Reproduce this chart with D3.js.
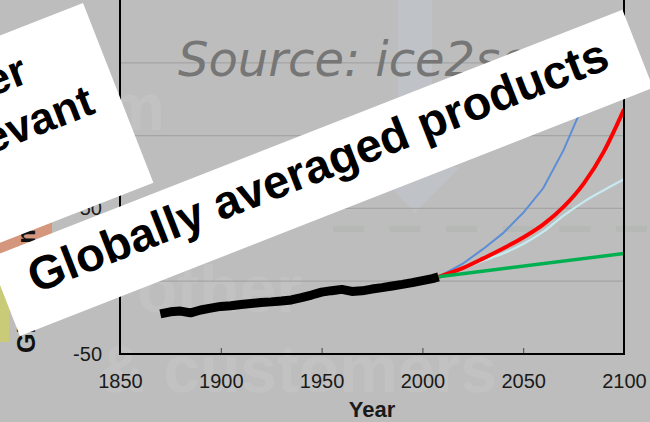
<!DOCTYPE html>
<html>
<head>
<meta charset="utf-8">
<script src="https://cdn.jsdelivr.net/npm/d3@7"></script>
<style>
  body { margin: 0; background: #bdbdbd; }
  svg { display: block; font-family: "Liberation Sans", Arial, sans-serif; }
</style>
</head>
<body>
<div id="chart"></div>
<script>
const obsYears = [1870, 1875, 1880, 1885, 1890, 1895, 1900, 1905, 1910, 1915, 1920, 1925, 1930, 1935, 1940, 1945, 1950, 1955, 1960, 1965, 1970, 1975, 1980, 1985, 1990, 1995, 2000, 2005, 2008];
const obsLevel = [-22.5, -21.0, -20.5, -21.8, -19.8, -18.5, -17.3, -16.8, -16.0, -15.3, -14.6, -14.2, -13.6, -12.9, -11.3, -9.5, -7.5, -6.5, -5.6, -7.0, -6.6, -5.4, -4.4, -3.3, -2.2, -1.0, 0.4, 1.8, 3.0];

// projections
const projYears = [2008, 2020, 2030, 2040, 2050, 2060, 2070, 2080, 2090, 2100];
const projBlue = [3, 12, 22, 33, 47, 64, 90, 122, 148, 172];
const projCyan = [3, 8.5, 14, 19, 25.5, 34, 45, 54.5, 62.5, 70];
const projRed = [3, 9, 15.5, 22.5, 30, 39, 51, 67, 89, 118];
const greenYears = [2008, 2100];
const projGreen = [3, 19];

const xTicks = [1850, 1900, 1950, 2000, 2050, 2100];
const yTicks = [-50, 0, 50, 100, 150];

(function () {
  const width = 650;
  const height = 422;
  const plot = { left: 120, right: 624, top: -10, bottom: 354 };

  const svg = d3.select("#chart")
    .append("svg")
    .attr("width", width)
    .attr("height", height);

  svg.append("rect")
    .attr("width", width)
    .attr("height", height)
    .attr("fill", "#bdbdbd");

  // bits of the picture behind, left edge
  svg.append("rect").attr("x", 0).attr("y", 212).attr("width", 52).attr("height", 48).attr("fill", "#d4967c");
  svg.append("rect").attr("x", 0).attr("y", 282).attr("width", 9).attr("height", 60).attr("fill", "#c9cb78");

  // faint watermark
  const wm = svg.append("g")
    .attr("fill", "#c2c2c2")
    .attr("font-weight", "bold")
    .attr("font-size", 66);
  wm.append("text").attr("x", 165).attr("y", 130).attr("text-anchor", "end").text("from");
  wm.append("text").attr("x", 137).attr("y", 312).text("other");
  wm.append("text").attr("x", 497).attr("y", 392).attr("text-anchor", "end").text("& customers");

  svg.append("path")
    .attr("d", "M398,0 L432,0 L432,167 L460,167 L415,213 L372,167 L398,167 Z")
    .attr("fill", "#bfc2c6");

  svg.append("line")
    .attr("x1", 333).attr("x2", 650)
    .attr("y1", 229).attr("y2", 229)
    .attr("stroke", "#b5b8b5")
    .attr("stroke-width", 6)
    .attr("stroke-dasharray", "31 25.6");

  const x = d3.scaleLinear().domain([1850, 2100]).range([plot.left, plot.right]);
  const y = d3.scaleLinear().domain([-50, 200]).range([plot.bottom, plot.top]);

  // gridlines
  svg.append("g")
    .selectAll("line")
    .data(yTicks.filter(d => d > -50))
    .join("line")
    .attr("x1", plot.left)
    .attr("x2", plot.right)
    .attr("y1", d => y(d))
    .attr("y2", d => y(d))
    .attr("stroke", "#a5a5a5")
    .attr("stroke-width", 1.3);

  svg.append("defs").append("clipPath")
    .attr("id", "clip")
    .append("rect")
    .attr("x", plot.left)
    .attr("y", plot.top)
    .attr("width", plot.right - plot.left)
    .attr("height", plot.bottom - plot.top);

  const line = d3.line().x(d => x(d[0])).y(d => y(d[1]));
  const curve = d3.line().curve(d3.curveMonotoneX).x(d => x(d[0])).y(d => y(d[1]));
  const lines = svg.append("g").attr("clip-path", "url(#clip)").attr("fill", "none");

  lines.append("path").attr("d", curve(d3.zip(projYears, projCyan)))
    .attr("stroke", "#c6eaf0").attr("stroke-width", 2.2);
  lines.append("path").attr("d", line(d3.zip(projYears, projBlue)))
    .attr("stroke", "#5b8ed6").attr("stroke-width", 2);
  lines.append("path").attr("d", curve(d3.zip(projYears, projRed)))
    .attr("stroke", "#ff0000").attr("stroke-width", 4);
  lines.append("path").attr("d", line(d3.zip(greenYears, projGreen)))
    .attr("stroke", "#00b050").attr("stroke-width", 3.5);
  lines.append("path").attr("d", line(d3.zip(obsYears, obsLevel)))
    .attr("stroke", "#000").attr("stroke-width", 9).attr("stroke-linejoin", "bevel");

  // axes
  const xAxis = svg.append("g")
    .attr("transform", `translate(0,${plot.bottom})`)
    .call(d3.axisBottom(x).tickValues(xTicks).tickFormat(d3.format("d")).tickSize(-6).tickPadding(20));
  xAxis.select(".domain").remove();
  xAxis.selectAll("line").attr("stroke", "#444");
  xAxis.selectAll("text").attr("font-size", 20).attr("fill", "#1a1a1a")
    .attr("font-family", "Liberation Sans, Arial, sans-serif");

  const yAxis = svg.append("g")
    .attr("transform", `translate(${plot.left},0)`)
    .call(d3.axisLeft(y).tickValues(yTicks).tickFormat(d => String(d)).tickSize(0).tickPadding(18));
  yAxis.select(".domain").remove();
  yAxis.selectAll("text").attr("font-size", 20).attr("fill", "#1a1a1a")
    .attr("font-family", "Liberation Sans, Arial, sans-serif");

  const frame = svg.append("g").attr("stroke", "#000").attr("stroke-width", 2);
  frame.append("line").attr("x1", plot.left).attr("x2", plot.left).attr("y1", plot.top).attr("y2", plot.bottom + 1);
  frame.append("line").attr("x1", plot.right).attr("x2", plot.right).attr("y1", plot.top).attr("y2", plot.bottom + 1);
  frame.append("line").attr("x1", plot.left - 1).attr("x2", plot.right + 1).attr("y1", plot.bottom).attr("y2", plot.bottom);

  svg.append("text")
    .attr("x", (plot.left + plot.right) / 2)
    .attr("y", 417)
    .attr("text-anchor", "middle")
    .attr("font-weight", "bold")
    .attr("font-size", 22)
    .attr("fill", "#1a1a1a")
    .text("Year");

  svg.append("text")
    .attr("transform", "translate(35,353) rotate(-90)")
    .attr("font-weight", "bold")
    .attr("font-size", 25)
    .attr("fill", "#111")
    .text("GMSL (mm)");

  svg.append("text")
    .attr("x", 178)
    .attr("y", 76)
    .attr("font-family", "DejaVu Sans, Verdana, sans-serif")
    .attr("font-style", "italic")
    .attr("font-size", 48)
    .attr("fill", "#767676")
    .text("Source: ice2sea");

  // banners on top
  const angle = -21.4;

  const b1 = svg.append("g").attr("transform", `translate(83,3) rotate(${angle})`);
  b1.append("rect").attr("x", -400).attr("y", 0).attr("width", 400).attr("height", 193).attr("fill", "#fff");
  b1.append("text").attr("x", -78).attr("y", 54).attr("text-anchor", "end")
    .attr("font-weight", "bold").attr("font-size", 44).text("Other");
  b1.append("text").attr("x", -27).attr("y", 107).attr("text-anchor", "end")
    .attr("font-weight", "bold").attr("font-size", 44).text("relevant");

  const b2 = svg.append("g").attr("transform", `translate(-10.7,257.8) rotate(${angle})`);
  b2.append("rect").attr("x", 0).attr("y", 0).attr("width", 680).attr("height", 84).attr("fill", "#fff");
  b2.append("text").attr("x", 30).attr("y", 50)
    .attr("font-weight", "bold").attr("font-size", 47).attr("fill", "#000")
    .text("Globally averaged products");
})();
</script>
</body>
</html>
